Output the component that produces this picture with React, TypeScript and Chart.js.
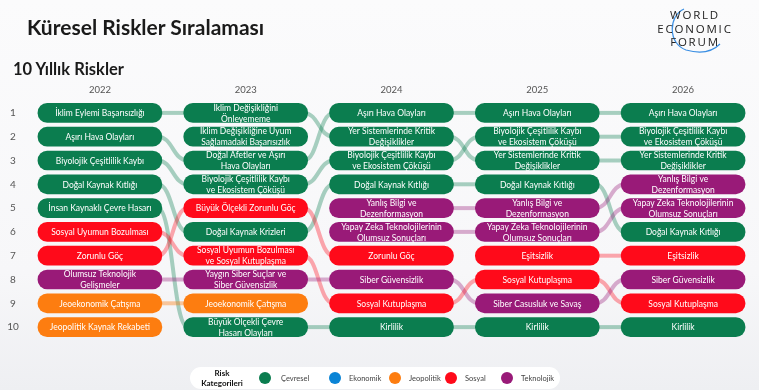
import React, { useEffect, useRef } from "react";
import { Chart, registerables } from "chart.js";

Chart.register(...registerables);

const years = ["2022", "2023", "2024", "2025", "2026"];
const ranks = [1, 2, 3, 4, 5, 6, 7, 8, 9, 10];

const labels2022 = [
  "İklim Eylemi Başarısızlığı",
  "Aşırı Hava Olayları",
  "Biyolojik Çeşitlilik Kaybı",
  "Doğal Kaynak Kıtlığı",
  "İnsan Kaynaklı Çevre Hasarı",
  "Sosyal Uyumun Bozulması",
  "Zorunlu Göç",
  "Olumsuz Teknolojik\nGelişmeler",
  "Jeoekonomik Çatışma",
  "Jeopolitik Kaynak Rekabeti",
];
const labels2023 = [
  "İklim Değişikliğini\nÖnleyememe",
  "İklim Değişikliğine Uyum\nSağlamadaki Başarısızlık",
  "Doğal Afetler ve Aşırı\nHava Olayları",
  "Biyolojik Çeşitlilik Kaybı\nve Ekosistem Çöküşü",
  "Büyük Ölçekli Zorunlu Göç",
  "Doğal Kaynak Krizleri",
  "Sosyal Uyumun Bozulması\nve Sosyal Kutuplaşma",
  "Yaygın Siber Suçlar ve\nSiber Güvensizlik",
  "Jeoekonomik Çatışma",
  "Büyük Ölçekli Çevre\nHasarı Olayları",
];
const labels2024 = [
  "Aşırı Hava Olayları",
  "Yer Sistemlerinde Kritik\nDeğişiklikler",
  "Biyolojik Çeşitlilik Kaybı\nve Ekosistem Çöküşü",
  "Doğal Kaynak Kıtlığı",
  "Yanlış Bilgi ve\nDezenformasyon",
  "Yapay Zeka Teknolojilerinin\nOlumsuz Sonuçları",
  "Zorunlu Göç",
  "Siber Güvensizlik",
  "Sosyal Kutuplaşma",
  "Kirlilik",
];
const labels2025 = [
  "Aşırı Hava Olayları",
  "Biyolojik Çeşitlilik Kaybı\nve Ekosistem Çöküşü",
  "Yer Sistemlerinde Kritik\nDeğişiklikler",
  "Doğal Kaynak Kıtlığı",
  "Yanlış Bilgi ve\nDezenformasyon",
  "Yapay Zeka Teknolojilerinin\nOlumsuz Sonuçları",
  "Eşitsizlik",
  "Sosyal Kutuplaşma",
  "Siber Casusluk ve Savaş",
  "Kirlilik",
];
const labels2026 = [
  "Aşırı Hava Olayları",
  "Biyolojik Çeşitlilik Kaybı\nve Ekosistem Çöküşü",
  "Yer Sistemlerinde Kritik\nDeğişiklikler",
  "Yanlış Bilgi ve\nDezenformasyon",
  "Yapay Zeka Teknolojilerinin\nOlumsuz Sonuçları",
  "Doğal Kaynak Kıtlığı",
  "Eşitsizlik",
  "Siber Güvensizlik",
  "Sosyal Kutuplaşma",
  "Kirlilik",
];

const cats2022 = ["env", "env", "env", "env", "env", "soc", "soc", "tech", "geo", "geo"];
const cats2023 = ["env", "env", "env", "env", "soc", "env", "soc", "tech", "geo", "env"];
const cats2024 = ["env", "env", "env", "env", "tech", "tech", "soc", "tech", "soc", "env"];
const cats2025 = ["env", "env", "env", "env", "tech", "tech", "soc", "soc", "tech", "env"];
const cats2026 = ["env", "env", "env", "tech", "tech", "env", "soc", "tech", "soc", "env"];

// [from rank, to rank]
const links2022to2023 = [[1, 1], [2, 3], [3, 4], [4, 6], [5, 10], [6, 7], [7, 5], [8, 8], [9, 9]];
const links2023to2024 = [[1, 2], [3, 1], [4, 3], [6, 4], [5, 7], [7, 9], [8, 8], [10, 10]];
const links2024to2025 = [[1, 1], [2, 3], [3, 2], [4, 4], [5, 5], [6, 6], [8, 9], [9, 8], [10, 10]];
const links2025to2026 = [[1, 1], [2, 2], [3, 3], [4, 6], [5, 4], [6, 5], [7, 7], [8, 9], [9, 8], [10, 10]];

const legendKeys = ["env", "eco", "geo", "soc", "tech"];
const legendNames = ["Çevresel", "Ekonomik", "Jeopolitik", "Sosyal", "Teknolojik"];

const pillColors: Record<string, string> = {
  env: "#0b7d4f",
  eco: "#0a84d6",
  geo: "#fd7d10",
  soc: "#ff0a1a",
  tech: "#991a78",
};
const linkColors: Record<string, string> = {
  env: "rgba(11,125,79,0.35)",
  eco: "rgba(10,132,214,0.35)",
  geo: "rgba(253,125,16,0.4)",
  soc: "rgba(255,10,26,0.35)",
  tech: "rgba(153,26,120,0.35)",
};

const allLabels = [labels2022, labels2023, labels2024, labels2025, labels2026];
const allCats = [cats2022, cats2023, cats2024, cats2025, cats2026];
const allLinks = [links2022to2023, links2023to2024, links2024to2025, links2025to2026];

const HALF = 0.425;
const FONT = "Lato, 'Noto Sans', sans-serif";

const bumpPlugin = {
  id: "bump",
  beforeDatasetsDraw(chart: any) {
    const { ctx, scales } = chart;
    const xs = scales.x;
    const ys = scales.y;
    ctx.save();
    ctx.lineWidth = 4;
    ctx.lineCap = "butt";
    allLinks.forEach((links, i) => {
      links.forEach(([a, b]) => {
        const x1 = xs.getPixelForValue(i + HALF) - 4;
        const x2 = xs.getPixelForValue(i + 1 - HALF) + 4;
        const y1 = ys.getPixelForValue(a);
        const y2 = ys.getPixelForValue(b);
        const xm = (x1 + x2) / 2;
        ctx.strokeStyle = linkColors[allCats[i][a - 1]];
        ctx.beginPath();
        ctx.moveTo(x1, y1);
        ctx.bezierCurveTo(xm, y1, xm, y2, x2, y2);
        ctx.stroke();
      });
    });
    // row numbers
    ctx.fillStyle = "#555";
    ctx.font = `10px ${FONT}`;
    ctx.textAlign = "center";
    ctx.textBaseline = "middle";
    ranks.forEach((r) => {
      ctx.fillText(String(r), 13, ys.getPixelForValue(r));
    });
    // years
    ctx.font = `9.5px ${FONT}`;
    ctx.fillStyle = "#555";
    years.forEach((y, i) => {
      ctx.fillText(y, xs.getPixelForValue(i), 90);
    });
    ctx.restore();
  },
  afterDatasetsDraw(chart: any) {
    const { ctx, scales } = chart;
    const xs = scales.x;
    const ys = scales.y;
    ctx.save();
    ctx.fillStyle = "#ffffff";
    ctx.font = `8.5px ${FONT}`;
    ctx.textAlign = "center";
    ctx.textBaseline = "middle";
    allLabels.forEach((labels, i) => {
      labels.forEach((lab, k) => {
        const cx = xs.getPixelForValue(i);
        const cy = ys.getPixelForValue(ranks[k]);
        const lines = lab.split("\n");
        if (lines.length === 1) {
          ctx.fillText(lines[0], cx, cy + 0.5);
        } else {
          ctx.fillText(lines[0], cx, cy - 5);
          ctx.fillText(lines[1], cx, cy + 6);
        }
      });
    });
    ctx.restore();
  },
};

export default function App() {
  const ref = useRef<HTMLCanvasElement | null>(null);

  useEffect(() => {
    if (!ref.current) return;
    const datasets = allLabels.map((labels, i) => ({
      type: "bar" as const,
      label: years[i],
      data: ranks.map((r) => ({ x: [i - HALF, i + HALF], y: r })),
      backgroundColor: allCats[i].map((c) => pillColors[c]),
      borderRadius: 10,
      borderSkipped: false,
      barThickness: 19,
      grouped: false,
    }));
    const chart = new Chart(ref.current, {
      type: "bar",
      data: { datasets: datasets as any },
      options: {
        indexAxis: "y",
        animation: false,
        responsive: false,
        layout: { padding: { left: 27, right: 3, top: 101, bottom: 51 } },
        scales: {
          x: { type: "linear", min: -0.5, max: 4.5, display: false, offset: false, grace: 0 },
          y: { type: "linear", min: 0.5, max: 10.5, reverse: true, display: false, offset: false, grace: 0 },
        },
        plugins: { legend: { display: false }, tooltip: { enabled: false } },
      },
      plugins: [bumpPlugin],
    });
    return () => chart.destroy();
  }, []);

  return (
    <div
      style={{
        position: "fixed",
        left: 0,
        top: 0,
        width: 759,
        height: 390,
        overflow: "hidden",
        background: "linear-gradient(180deg, #fbfbfc 0%, #f7f7f9 70%, #eeeff2 100%)",
        fontFamily: FONT,
      }}
    >
      <canvas ref={ref} width={759} height={390} style={{ position: "absolute", left: 0, top: 0 }} />
      <div
        style={{
          position: "absolute",
          left: 27,
          top: 14,
          fontSize: 21,
          fontWeight: 700,
          color: "#1a1a1a",
          whiteSpace: "nowrap",
        }}
      >
        Küresel Riskler Sıralaması
      </div>
      <div
        style={{
          position: "absolute",
          left: 13,
          top: 59,
          fontSize: 16.5,
          fontWeight: 700,
          color: "#1a1a1a",
          whiteSpace: "nowrap",
        }}
      >
        10 Yıllık Riskler
      </div>
      <div style={{ position: "absolute", left: 650, top: 6, width: 90, height: 52 }}>
        <svg width={90} height={52} style={{ position: "absolute", left: 0, top: 0 }}>
          <path d="M 34 3 C 18 10, 18 38, 36 44 C 50 48, 62 46, 70 38" stroke="#3b8fe3" strokeWidth={1.2} fill="none" />
        </svg>
        <div
          style={{
            position: "absolute",
            left: 0,
            top: 2,
            width: 90,
            textAlign: "center",
            fontSize: 11.5,
            lineHeight: "13.5px",
            letterSpacing: 1.8,
            color: "#222",
            fontFamily: "'Open Sans', sans-serif",
          }}
        >
          WORLD
          <br />
          ECONOMIC
          <br />
          FORUM
        </div>
      </div>
      <div
        style={{
          position: "absolute",
          left: 190,
          top: 367,
          width: 370,
          height: 22,
          background: "#ffffff",
          borderRadius: 11,
        }}
      >
        <div
          style={{
            position: "absolute",
            left: 10,
            top: 1,
            width: 44,
            textAlign: "center",
            fontSize: 8,
            lineHeight: "10px",
            fontWeight: 700,
            color: "#111",
          }}
        >
          Risk
          <br />
          Kategorileri
        </div>
        {legendKeys.map((k, i) => {
          const lefts = [69, 139, 199, 255, 311];
          return (
            <div
              key={k}
              style={{ position: "absolute", left: lefts[i], top: 5, height: 12, display: "flex", alignItems: "center" }}
            >
              <span
                style={{
                  display: "inline-block",
                  width: 12,
                  height: 12,
                  borderRadius: 6,
                  background: pillColors[k],
                }}
              />
              <span style={{ marginLeft: i === 0 ? 10 : 8, fontSize: 7.5, color: "#444" }}>{legendNames[i]}</span>
            </div>
          );
        })}
      </div>
    </div>
  );
}
